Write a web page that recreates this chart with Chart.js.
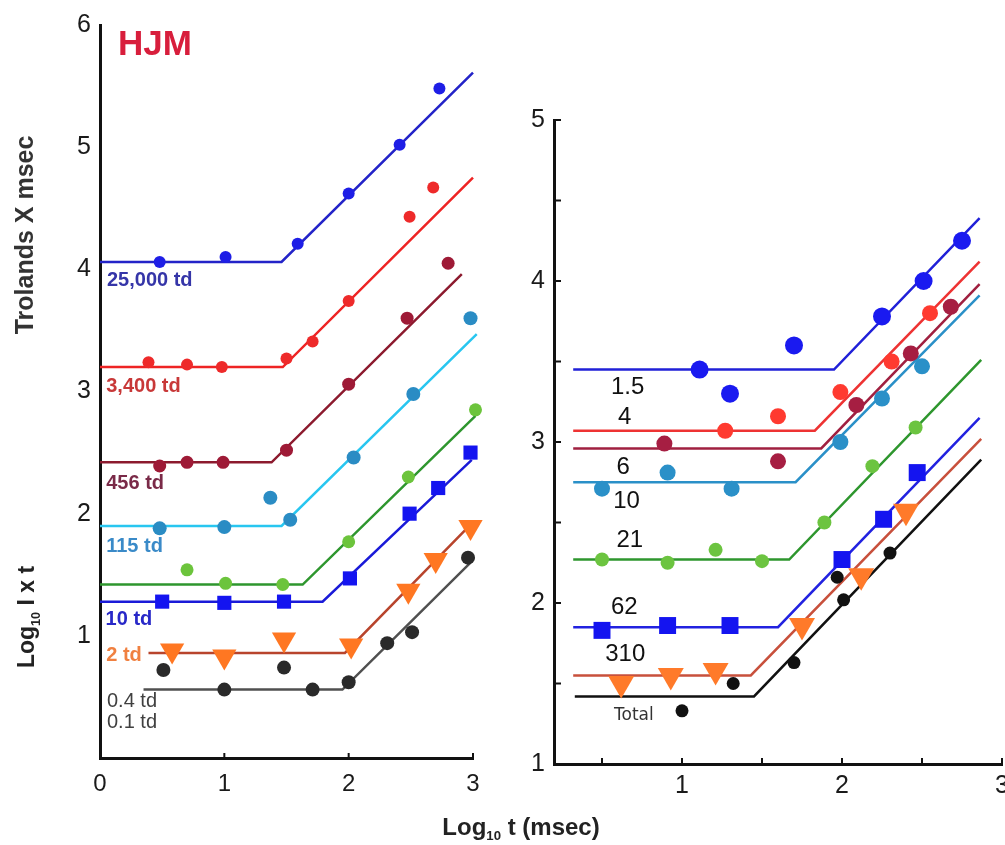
<!DOCTYPE html>
<html>
<head>
<meta charset="utf-8">
<script src="https://cdn.jsdelivr.net/npm/chart.js@4.4.1/dist/chart.umd.min.js"></script>
<style>
  html, body { margin: 0; padding: 0; background: #fff; }
  #wrap { position: relative; width: 1005px; height: 845px; overflow: hidden; background: #fff;
          font-family: 'Liberation Sans', Arial, sans-serif; color: #222; }
  #leftChart { position: absolute; left: 0; top: 0; }
  #rightChart { position: absolute; left: 500px; top: 0; }
  .vtitle { position: absolute; white-space: nowrap; transform: translate(-50%, -50%) rotate(-90deg); }
  .htitle { position: absolute; white-space: nowrap; transform: translate(-50%, -50%); }
  sub { font-size: 0.55em; }
</style>
</head>
<body>
<div id="wrap">
  <canvas id="leftChart" width="500" height="845"></canvas>
  <canvas id="rightChart" width="520" height="845"></canvas>
  <div class="vtitle" style="left:24px; top:235px; font-size:25px; font-weight:600; color:#333;">Trolands X msec</div>
  <div class="vtitle" style="left:28px; top:617px; font-size:23px; font-weight:600;">Log<sub>10</sub> I x t</div>
  <div class="htitle" style="left:521px; top:828px; font-size:24px; font-weight:700;">Log<sub>10</sub> t (msec)</div>
</div>
<script>
// ---- tick values ----
const leftXTicks = [0, 1, 2, 3];
const leftYTicks = [1, 2, 3, 4, 5, 6];
const rightXTicks = [0.5, 1, 1.5, 2, 2.5, 3];
const rightYTicks = [1, 1.5, 2, 2.5, 3, 3.5, 4, 4.5, 5];

// ---- left panel (HJM) ----
const leftFitX = [
  [0, 1.46, 3.0],
  [0, 1.47, 3.0],
  [0, 1.38, 2.91],
  [0, 1.46, 3.03],
  [0, 1.63, 3.02],
  [0, 1.79, 2.99],
  [0.39, 1.97, 3.0],
  [0.35, 1.95, 2.98],
];
const leftFitY = [
  [4.06, 4.06, 5.61],
  [3.20, 3.20, 4.75],
  [2.42, 2.42, 3.96],
  [1.90, 1.90, 3.47],
  [1.42, 1.42, 2.80],
  [1.28, 1.28, 2.44],
  [0.86, 0.86, 1.93],
  [0.56, 0.56, 1.60],
];
const leftPtsX = [
  [0.48, 1.01, 1.59, 2.0, 2.41, 2.73],
  [0.39, 0.70, 0.98, 1.50, 1.71, 2.0, 2.49, 2.68],
  [0.48, 0.70, 0.99, 1.50, 2.0, 2.47, 2.80],
  [0.48, 1.0, 1.37, 1.53, 2.04, 2.52, 2.98],
  [0.70, 1.01, 1.47, 2.0, 2.48, 3.02],
  [0.50, 1.0, 1.48, 2.01, 2.49, 2.72, 2.98],
  [0.58, 1.0, 1.48, 2.02, 2.48, 2.70, 2.98],
  [0.51, 1.0, 1.48, 1.71, 2.0, 2.31, 2.51, 2.96],
];
const leftPtsY = [
  [4.06, 4.10, 4.21, 4.62, 5.02, 5.48],
  [3.24, 3.22, 3.20, 3.27, 3.41, 3.74, 4.43, 4.67],
  [2.39, 2.42, 2.42, 2.52, 3.06, 3.60, 4.05],
  [1.88, 1.89, 2.13, 1.95, 2.46, 2.98, 3.60],
  [1.54, 1.43, 1.42, 1.77, 2.30, 2.85],
  [1.28, 1.27, 1.28, 1.47, 2.0, 2.21, 2.50],
  [0.88, 0.83, 0.97, 0.92, 1.37, 1.62, 1.89],
  [0.72, 0.56, 0.74, 0.56, 0.62, 0.94, 1.03, 1.64],
];
const leftTexts = ['HJM', '25,000 td', '3,400 td', '456 td', '115 td', '10 td', '2 td', '0.4 td', '0.1 td'];
const leftTextX = [0.145, 0.056, 0.05, 0.05, 0.05, 0.045, 0.05, 0.056, 0.056];
const leftTextY = [5.83, 3.91, 3.04, 2.25, 1.73, 1.13, 0.84, 0.46, 0.29];

// ---- right panel ----
const rightFitX = [
  [0.32, 1.95, 2.86],
  [0.32, 1.83, 2.86],
  [0.32, 1.87, 2.86],
  [0.32, 1.71, 2.86],
  [0.32, 1.67, 2.87],
  [0.32, 1.60, 2.86],
  [0.32, 1.43, 2.87],
  [0.33, 1.45, 2.87],
];
const rightFitY = [
  [3.45, 3.45, 4.39],
  [3.07, 3.07, 4.12],
  [2.96, 2.96, 3.98],
  [2.75, 2.75, 3.91],
  [2.27, 2.27, 3.51],
  [1.85, 1.85, 3.15],
  [1.55, 1.55, 3.02],
  [1.42, 1.42, 2.89],
];
const rightPtsX = [
  [1.11, 1.30, 1.70, 2.25, 2.51, 2.75],
  [1.27, 1.60, 1.99, 2.31, 2.55],
  [0.89, 1.60, 2.09, 2.43, 2.68],
  [0.50, 0.91, 1.31, 1.99, 2.25, 2.50],
  [0.50, 0.91, 1.21, 1.50, 1.89, 2.19, 2.46],
  [0.50, 0.91, 1.30, 2.0, 2.26, 2.47],
  [0.62, 0.93, 1.21, 1.75, 2.12, 2.40],
  [1.0, 1.32, 1.70, 1.97, 2.01, 2.30],
];
const rightPtsY = [
  [3.45, 3.30, 3.60, 3.78, 4.0, 4.25],
  [3.07, 3.16, 3.31, 3.50, 3.80],
  [2.99, 2.88, 3.23, 3.55, 3.84],
  [2.71, 2.81, 2.71, 3.0, 3.27, 3.47],
  [2.27, 2.25, 2.33, 2.26, 2.50, 2.85, 3.09],
  [1.83, 1.86, 1.86, 2.27, 2.52, 2.81],
  [1.50, 1.55, 1.58, 1.86, 2.17, 2.57],
  [1.33, 1.50, 1.63, 2.16, 2.02, 2.31],
];
const rightTexts = ['1.5', '4', '6', '10', '21', '62', '310', 'Total'];
const rightTextX = [0.556, 0.60, 0.59, 0.57, 0.59, 0.556, 0.52, 0.575];
const rightTextY = [3.34, 3.15, 2.84, 2.63, 2.39, 1.97, 1.68, 1.30];

// ---- looks ----
const FONT = "'Liberation Sans', Arial, sans-serif";
const leftLook = [
  { line: '#2323c8', fill: '#1e1ee6', shape: 'circle', r: 6 },
  { line: '#ee2424', fill: '#ee2a2a', shape: 'circle', r: 6 },
  { line: '#8c1a2e', fill: '#9e1a36', shape: 'circle', r: 6.5 },
  { line: '#28c6f0', fill: '#2a8cc4', shape: 'circle', r: 7 },
  { line: '#2e962e', fill: '#6cc43c', shape: 'circle', r: 6.5 },
  { line: '#1a1ad8', fill: '#1414f0', shape: 'rect', r: 10 },
  { line: '#b8442c', fill: '#ff7722', shape: 'triangle', r: 14, rot: 180 },
  { line: '#505050', fill: '#2a2a2a', shape: 'circle', r: 7 },
];
const rightLook = [
  { line: '#2020d8', fill: '#1a1af0', shape: 'circle', r: 9 },
  { line: '#ee3333', fill: '#ff3a30', shape: 'circle', r: 8 },
  { line: '#a02040', fill: '#a61e42', shape: 'circle', r: 8 },
  { line: '#2a90c8', fill: '#2a90c8', shape: 'circle', r: 8 },
  { line: '#2e962e', fill: '#6cc440', shape: 'circle', r: 7 },
  { line: '#2222e0', fill: '#1414f0', shape: 'rect', r: 12 },
  { line: '#c8503c', fill: '#ff7a2a', shape: 'triangle', r: 15, rot: 180 },
  { line: '#111111', fill: '#111111', shape: 'circle', r: 6.5 },
];
const leftTextColor = ['#d81e3c', '#3535a8', '#c83838', '#7a2a48', '#3a8ac8', '#2828c8', '#f08040', '#404040', '#404040'];
const leftTextFont = ['bold 35px ' + FONT, 'bold 20px ' + FONT, 'bold 20px ' + FONT, 'bold 20px ' + FONT,
  'bold 20px ' + FONT, 'bold 20px ' + FONT, 'bold 20px ' + FONT, '20px ' + FONT, '20px ' + FONT];
const rightTextColor = ['#111', '#111', '#111', '#111', '#111', '#111', '#111', '#333'];
const rightTextFont = ['24px ' + FONT, '24px ' + FONT, '24px ' + FONT, '24px ' + FONT, '24px ' + FONT,
  '24px ' + FONT, '24px ' + FONT, "17px 'DejaVu Sans', sans-serif"];

function toXY(xs, ys) {
  return xs.map((x, i) => ({ x, y: ys[i] }));
}

function buildDatasets(fitX, fitY, ptsX, ptsY, look, lineWidth) {
  const sets = [];
  look.forEach((lk, i) => {
    sets.push({
      data: toXY(ptsX[i], ptsY[i]),
      showLine: false,
      pointStyle: lk.shape,
      pointRadius: lk.r,
      pointRotation: lk.rot || 0,
      pointBackgroundColor: lk.fill,
      pointBorderWidth: 0,
      clip: false,
      order: 0,
    });
    sets.push({
      data: toXY(fitX[i], fitY[i]),
      showLine: true,
      borderColor: lk.line,
      borderWidth: lineWidth,
      pointRadius: 0,
      tension: 0,
      clip: false,
      order: 1,
    });
  });
  return sets;
}

function textPlugin(texts, xs, ys, colors, fonts) {
  return {
    id: 'textMarks',
    afterDatasetsDraw(chart) {
      const { ctx, scales: { x, y } } = chart;
      ctx.save();
      ctx.textAlign = 'left';
      ctx.textBaseline = 'middle';
      texts.forEach((t, i) => {
        ctx.fillStyle = colors[i];
        ctx.font = fonts[i];
        ctx.fillText(t, x.getPixelForValue(xs[i]), y.getPixelForValue(ys[i]));
      });
      ctx.restore();
    },
  };
}

// small tick marks pointing into the plot
function innerTickPlugin(xLen, yLen) {
  return {
    id: 'innerTicks',
    afterDraw(chart) {
      const { ctx, chartArea, scales: { x, y } } = chart;
      ctx.save();
      ctx.strokeStyle = '#111';
      ctx.lineWidth = 2;
      if (xLen) {
        x.ticks.forEach((t) => {
          const px = x.getPixelForValue(t.value);
          ctx.beginPath();
          ctx.moveTo(px, chartArea.bottom);
          ctx.lineTo(px, chartArea.bottom - xLen);
          ctx.stroke();
        });
      }
      if (yLen) {
        y.ticks.forEach((t) => {
          const py = y.getPixelForValue(t.value);
          ctx.beginPath();
          ctx.moveTo(chartArea.left, py);
          ctx.lineTo(chartArea.left + yLen, py);
          ctx.stroke();
        });
      }
      ctx.restore();
    },
  };
}

function intLabel(v) {
  return Number.isInteger(v) ? String(v) : '';
}

function axisOptions(min, max, tickValues, size, horizontal, pad, fontSize) {
  return {
    type: 'linear',
    min,
    max,
    afterBuildTicks: (scale) => {
      scale.ticks = tickValues.map((v) => ({ value: v }));
    },
    afterFit: (scale) => {
      if (horizontal) scale.height = size;
      else scale.width = size;
    },
    grid: { display: false, drawTicks: false },
    border: { display: true, color: '#111', width: 3 },
    ticks: {
      autoSkip: false,
      maxRotation: 0,
      padding: pad,
      color: '#1a1a1a',
      font: { family: FONT, size: fontSize },
      callback: intLabel,
    },
  };
}

function makeChart(id, datasets, scales, padding, plugins) {
  return new Chart(document.getElementById(id), {
    type: 'scatter',
    data: { datasets },
    options: {
      responsive: false,
      animation: false,
      events: [],
      layout: { padding },
      plugins: { legend: { display: false }, tooltip: { enabled: false } },
      scales,
    },
    plugins,
  });
}

makeChart(
  'leftChart',
  buildDatasets(leftFitX, leftFitY, leftPtsX, leftPtsY, leftLook, 2.5),
  {
    x: axisOptions(0, 3, leftXTicks, 87, true, 12, 24),
    y: axisOptions(0, 6, leftYTicks, 100, false, 9, 25),
  },
  { left: 0, right: 27, top: 25, bottom: 0 },
  [textPlugin(leftTexts, leftTextX, leftTextY, leftTextColor, leftTextFont), innerTickPlugin(5, 0)]
);

makeChart(
  'rightChart',
  buildDatasets(rightFitX, rightFitY, rightPtsX, rightPtsY, rightLook, 2.5),
  {
    x: axisOptions(0.2, 3, rightXTicks, 81, true, 7, 25),
    y: axisOptions(1, 5, rightYTicks, 54, false, 9, 25),
  },
  { left: 0, right: 18, top: 120, bottom: 0 },
  [textPlugin(rightTexts, rightTextX, rightTextY, rightTextColor, rightTextFont), innerTickPlugin(6, 7)]
);
</script>
</body>
</html>
